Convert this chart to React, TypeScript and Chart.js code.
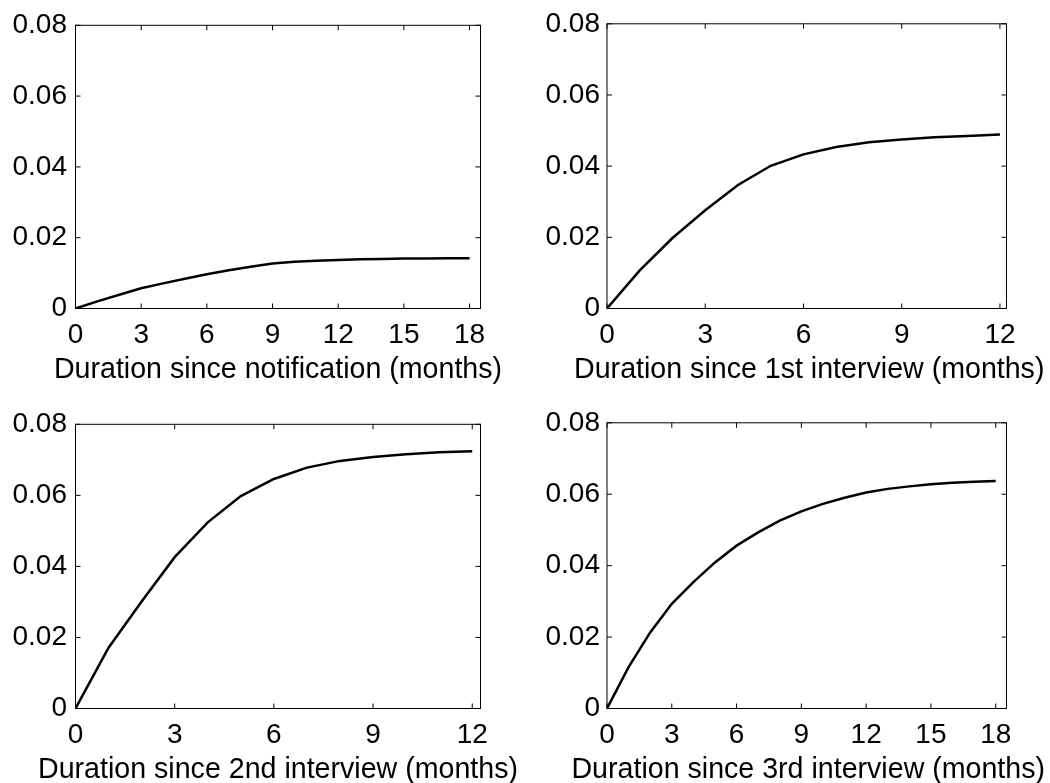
import React, { useEffect, useRef } from "react";
import { Chart, registerables } from "chart.js";

Chart.register(...registerables);

// ---- Data ----
const notifMonths = [0, 1, 2, 3, 4, 5, 6, 7, 8, 9, 10, 11, 12, 13, 14, 15, 16, 17, 18];
const notifValues = [0, 0.002, 0.0039, 0.0057, 0.0071, 0.0084, 0.0097, 0.0108, 0.0118, 0.0127, 0.0132, 0.0135, 0.0137, 0.0139, 0.014, 0.0141, 0.0141, 0.0142, 0.0142];

const firstMonths = [0, 1, 2, 3, 4, 5, 6, 7, 8, 9, 10, 11, 12];
const firstValues = [0, 0.0107, 0.0198, 0.0276, 0.0347, 0.0401, 0.0433, 0.0454, 0.0467, 0.0475, 0.0481, 0.0485, 0.0489];

const secondMonths = [0, 1, 2, 3, 4, 5, 6, 7, 8, 9, 10, 11, 12];
const secondValues = [0, 0.0171, 0.0301, 0.0426, 0.0524, 0.0598, 0.0646, 0.0678, 0.0697, 0.0708, 0.0716, 0.0721, 0.0724];

const thirdMonths = [0, 1, 2, 3, 4, 5, 6, 7, 8, 9, 10, 11, 12, 13, 14, 15, 16, 17, 18];
const thirdValues = [0, 0.0116, 0.0213, 0.0293, 0.0354, 0.0409, 0.0456, 0.0493, 0.0526, 0.0552, 0.0573, 0.059, 0.0605, 0.0615, 0.0622, 0.0628, 0.0632, 0.0635, 0.0637];

const yTickLabels = ["0", "0.02", "0.04", "0.06", "0.08"];
const xTicks18 = [0, 3, 6, 9, 12, 15, 18];
const xTicks12 = [0, 3, 6, 9, 12];

const titles = [
  "Duration since notification (months)",
  "Duration since 1st interview (months)",
  "Duration since 2nd interview (months)",
  "Duration since 3rd interview (months)",
];

// ---- Layout (positions only) ----
type Panel = {
  months: number[];
  values: number[];
  xTicks: number[];
  xMax: number;
  title: string;
  cx: number; cy: number; cw: number; ch: number;
  plotLeft: number; plotTop: number; plotRight: number; plotBottom: number;
  yPad: number;
  titleDx: number;
};

const panels: Panel[] = [
  { months: notifMonths, values: notifValues, xTicks: xTicks18, xMax: 18.5, title: titles[0],
    cx: 0, cy: 0, cw: 525, ch: 392, plotLeft: 75.5, plotTop: 22.5, plotRight: 480.5, plotBottom: 308.5, yPad: 8.5, titleDx: 0 },
  { months: firstMonths, values: firstValues, xTicks: xTicks12, xMax: 12.2, title: titles[1],
    cx: 525, cy: 0, cw: 525, ch: 392, plotLeft: 607, plotTop: 22.5, plotRight: 1006.5, plotBottom: 308.5, yPad: 7, titleDx: 2.5 },
  { months: secondMonths, values: secondValues, xTicks: xTicks12, xMax: 12.25, title: titles[2],
    cx: 0, cy: 399, cw: 525, ch: 392, plotLeft: 75.5, plotTop: 421.5, plotRight: 480.5, plotBottom: 708.5, yPad: 8.5, titleDx: 0 },
  { months: thirdMonths, values: thirdValues, xTicks: xTicks18, xMax: 18.5, title: titles[3],
    cx: 525, cy: 399, cw: 525, ch: 392, plotLeft: 607, plotTop: 421.5, plotRight: 1006.5, plotBottom: 708.5, yPad: 7, titleDx: 1.5 },
];

const FONT = "'Liberation Sans', Arial, Helvetica, sans-serif";

const boxPlugin = {
  id: "matlabBox",
  afterDraw(chart: any, _args: any, opts: any) {
    const { ctx, chartArea, scales } = chart;
    const { left, top, right, bottom } = chartArea;
    ctx.save();
    ctx.strokeStyle = "#000";
    ctx.lineWidth = 1;
    ctx.strokeRect(left, top, right - left, bottom - top);
    const tl = 5;
    ctx.beginPath();
    scales.x.ticks.forEach((t: any) => {
      const px = scales.x.getPixelForValue(t.value);
      ctx.moveTo(px, bottom);
      ctx.lineTo(px, bottom - tl);
      ctx.moveTo(px, top);
      ctx.lineTo(px, top + tl);
    });
    scales.y.ticks.forEach((t: any) => {
      const py = scales.y.getPixelForValue(t.value);
      ctx.moveTo(left, py);
      ctx.lineTo(left + tl, py);
      ctx.moveTo(right, py);
      ctx.lineTo(right - tl, py);
    });
    ctx.stroke();
    // x-axis title (drawn without width compression)
    if (opts && opts.title) {
      ctx.fillStyle = "#000";
      ctx.font = `28.6px ${FONT}`;
      ctx.textAlign = "center";
      ctx.textBaseline = "middle";
      ctx.fillText(opts.title, (left + right) / 2 + (opts.dx || 0), bottom + 61.5);
    }
    ctx.restore();
  },
};

function PanelChart({ p }: { p: Panel }) {
  const ref = useRef<HTMLCanvasElement | null>(null);
  useEffect(() => {
    if (!ref.current) return;
    const yAxisWidth = p.plotLeft - p.cx;
    const padTop = p.plotTop - p.cy;
    const padRight = p.cx + p.cw - p.plotRight;
    const xAxisHeight = p.cy + p.ch - p.plotBottom;
    const chart = new Chart(ref.current, {
      type: "line",
      data: {
        datasets: [
          {
            data: p.months.map((m, i) => ({ x: m, y: p.values[i] })),
            borderColor: "#000",
            borderWidth: 2.5,
            pointRadius: 0,
            tension: 0,
            fill: false,
          },
        ],
      },
      options: {
        animation: false,
        responsive: false,
        devicePixelRatio: 1,
        layout: { padding: { left: 0, top: padTop, right: padRight, bottom: 0 } },
        plugins: {
          legend: { display: false },
          tooltip: { enabled: false },
          matlabBox: { title: p.title, dx: p.titleDx },
        } as any,
        scales: {
          x: {
            type: "linear",
            min: 0,
            max: p.xMax,
            grid: { display: false, drawTicks: false },
            border: { display: false },
            afterBuildTicks: (s: any) => {
              s.ticks = p.xTicks.map((v) => ({ value: v }));
            },
            afterFit: (s: any) => {
              s.height = xAxisHeight;
            },
            ticks: {
              autoSkip: false,
              maxRotation: 0,
              padding: 10,
              color: "#000",
              font: { family: FONT, size: 28 },
              callback: (v: any) => String(v),
            },
            title: { display: false },
          },
          y: {
            type: "linear",
            min: 0,
            max: 0.08,
            grid: { display: false, drawTicks: false },
            border: { display: false },
            afterBuildTicks: (s: any) => {
              s.ticks = yTickLabels.map((l) => ({ value: parseFloat(l) }));
            },
            afterFit: (s: any) => {
              s.width = yAxisWidth;
            },
            ticks: {
              padding: p.yPad,
              color: "#000",
              font: { family: FONT, size: 28 },
              callback: (v: any) => {
                const idx = yTickLabels.findIndex((l) => Math.abs(parseFloat(l) - v) < 1e-9);
                return idx >= 0 ? yTickLabels[idx] : "";
              },
            },
          },
        },
      },
      plugins: [boxPlugin],
    });
    return () => chart.destroy();
  }, [p]);
  return (
    <canvas
      ref={ref}
      width={p.cw}
      height={p.ch}
      style={{ position: "absolute", left: p.cx, top: p.cy, width: p.cw, height: p.ch }}
    />
  );
}

export default function App() {
  return (
    <div
      style={{
        position: "absolute",
        left: 0,
        top: 0,
        width: 1050,
        height: 783,
        overflow: "hidden",
        background: "#fff",
      }}
    >
      {panels.map((p, i) => (
        <PanelChart key={i} p={p} />
      ))}
    </div>
  );
}
